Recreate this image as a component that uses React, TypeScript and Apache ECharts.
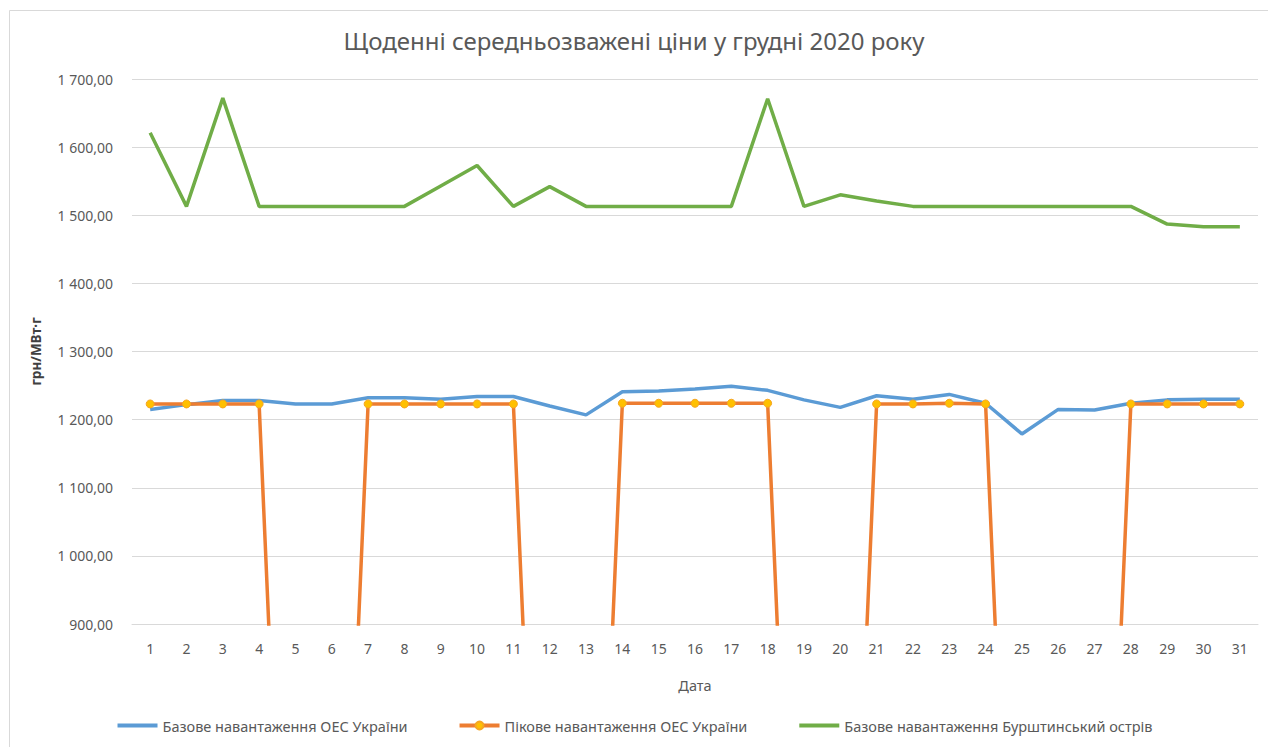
import React, { useEffect, useRef } from "react";
import * as echarts from "echarts";

const days: string[] = Array.from({ length: 31 }, (_, i) => String(i + 1));

const baseUkraine: number[] = [
  1215, 1222, 1228, 1228, 1223, 1223, 1232, 1232, 1230, 1234,
  1234, 1220, 1207, 1241, 1242, 1245, 1249, 1243, 1229, 1218,
  1235, 1230, 1237, 1224, 1179, 1215, 1214, 1224, 1229, 1230,
  1230,
];

const peakUkraine: number[] = [
  1223, 1223, 1223, 1223, 0, 0, 1223, 1223, 1223, 1223,
  1223, 0, 0, 1224, 1224, 1224, 1224, 1224, 0, 0,
  1223, 1223, 1224, 1223, 0, 0, 0, 1223, 1223, 1223,
  1223,
];

const baseBurshtyn: number[] = [
  1621, 1513, 1672, 1513, 1513, 1513, 1513, 1513, 1543, 1573,
  1513, 1542, 1513, 1513, 1513, 1513, 1513, 1671, 1513, 1530,
  1521, 1513, 1513, 1513, 1513, 1513, 1513, 1513, 1487, 1483,
  1483,
];

const seriesNames: string[] = [
  "Базове навантаження ОЕС України",
  "Пікове навантаження ОЕС України",
  "Базове навантаження Бурштинський острів",
];

const titleText = "Щоденні середньозважені ціни у грудні 2020 року";
const yName = "грн/МВт·г";
const xName = "Дата";

const FONT = "'Noto Sans', 'Open Sans', sans-serif";

function fmt(v: number): string {
  const s = v.toFixed(2).replace(".", ",");
  const [int, dec] = s.split(",");
  const withSp = int.replace(/\B(?=(\d{3})+(?!\d))/g, " ");
  return withSp + "," + dec;
}

export default function App() {
  const ref = useRef<HTMLDivElement>(null);
  useEffect(() => {
    if (!ref.current) return;
    const chart = echarts.init(ref.current, undefined, { renderer: "svg" });
    chart.setOption({
      animation: false,
      backgroundColor: "#ffffff",
      graphic: [
        {
          type: "rect",
          shape: { x: 9.5, y: 10.5, width: 1300, height: 800 },
          style: { fill: "none", stroke: "#d9d9d9", lineWidth: 1 },
          silent: true,
        },
      ],
      title: {
        text: titleText,
        left: "center",
        top: 23,
        textStyle: {
          fontFamily: FONT,
          fontSize: 24,
          fontWeight: "normal",
          color: "#595959",
        },
      },
      legend: {
        bottom: 9,
        left: "center",
        itemWidth: 40,
        itemHeight: 10,
        itemGap: 50,
        textStyle: { fontFamily: FONT, fontSize: 14.5, color: "#595959" },
        data: [
          {
            name: seriesNames[0],
            itemStyle: { opacity: 0 },
            lineStyle: { width: 4, color: "#5B9BD5" },
          },
          {
            name: seriesNames[1],
            lineStyle: { width: 4, color: "#ED7D31" },
          },
          {
            name: seriesNames[2],
            itemStyle: { opacity: 0 },
            lineStyle: { width: 4, color: "#70AD47" },
          },
        ],
      },
      grid: { left: 132, right: 10, top: 79, bottom: 123 },
      xAxis: {
        type: "category",
        data: days,
        boundaryGap: true,
        name: xName,
        nameLocation: "middle",
        nameGap: 53,
        nameTextStyle: { fontFamily: FONT, fontSize: 14.5, color: "#595959" },
        axisLine: { lineStyle: { color: "#d9d9d9" } },
        axisTick: { show: false },
        axisLabel: {
          fontFamily: FONT,
          fontSize: 14,
          color: "#595959",
          margin: 17,
          interval: 0,
        },
      },
      yAxis: {
        type: "value",
        min: 900,
        max: 1700,
        interval: 100,
        name: yName,
        nameLocation: "middle",
        nameGap: 89,
        nameRotate: 90,
        nameTextStyle: {
          fontFamily: FONT,
          fontSize: 13.5,
          fontWeight: "bold",
          color: "#404040",
        },
        axisLine: { show: false },
        axisTick: { show: false },
        splitLine: { lineStyle: { color: "#d9d9d9" } },
        axisLabel: {
          fontFamily: FONT,
          fontSize: 14,
          color: "#595959",
          margin: 19,
          formatter: (v: number) => fmt(v),
        },
      },
      series: [
        {
          name: seriesNames[0],
          type: "line",
          data: baseUkraine,
          symbol: "none",
          clip: true,
          lineStyle: { color: "#5B9BD5", width: 3.5 },
          itemStyle: { color: "#5B9BD5" },
          z: 2,
        },
        {
          name: seriesNames[1],
          type: "line",
          data: peakUkraine,
          symbol: "circle",
          symbolSize: 8,
          showSymbol: true,
          clip: true,
          lineStyle: { color: "#ED7D31", width: 3.5 },
          itemStyle: { color: "#FFC000", borderColor: "#F5A623", borderWidth: 1 },
          z: 3,
        },
        {
          name: seriesNames[2],
          type: "line",
          data: baseBurshtyn,
          symbol: "none",
          clip: true,
          lineStyle: { color: "#70AD47", width: 3.5 },
          itemStyle: { color: "#70AD47" },
          z: 2,
        },
      ],
    });
    return () => chart.dispose();
  }, []);
  return (
    <div
      ref={ref}
      style={{ position: "absolute", left: 0, top: 0, width: 1268, height: 747 }}
    />
  );
}
